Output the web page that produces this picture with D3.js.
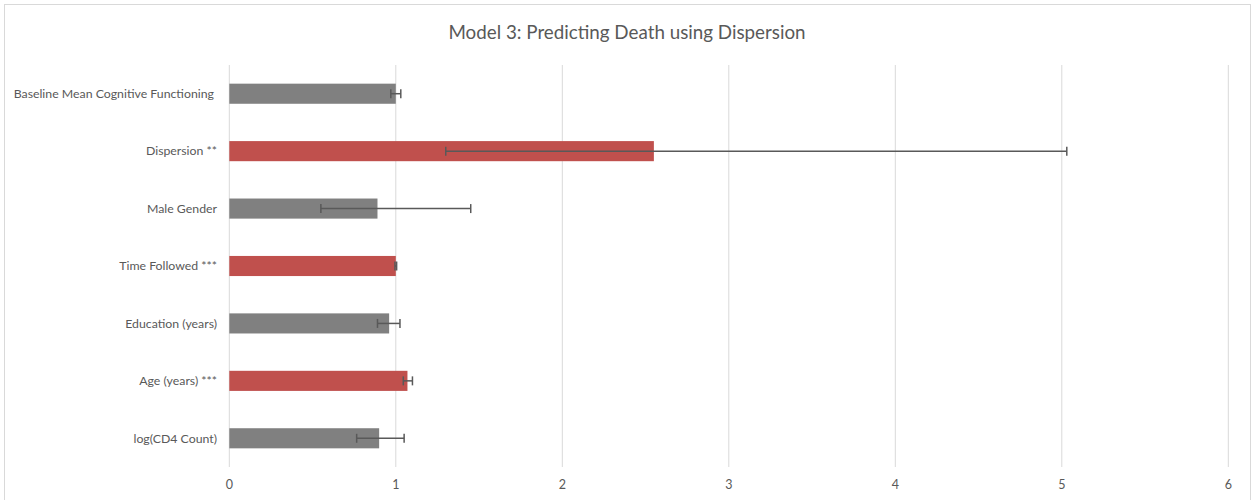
<!DOCTYPE html>
<html>
<head>
<meta charset="utf-8">
<script src="https://cdn.jsdelivr.net/npm/d3@7"></script>
<style>
  body { margin: 0; background: #fff; }
  text { font-family: Lato, "Open Sans", sans-serif; fill: #595959; }
</style>
</head>
<body>
<svg width="1255" height="500"></svg>
<script>
const categories = ["Baseline Mean Cognitive Functioning", "Dispersion **", "Male Gender", "Time Followed ***", "Education (years)", "Age (years) ***", "log(CD4 Count)"];
const values = [1.00, 2.55, 0.89, 1.00, 0.96, 1.07, 0.90];
const lower = [0.97, 1.30, 0.55, 0.995, 0.89, 1.045, 0.765];
const upper = [1.03, 5.03, 1.45, 1.005, 1.025, 1.10, 1.05];
const significant = [false, true, false, true, false, true, false];
const xTicks = [0, 1, 2, 3, 4, 5, 6];

const svg = d3.select("svg");

// chart frame
svg.append("rect")
  .attr("x", 4.5).attr("y", 4.5)
  .attr("width", 1246).attr("height", 500)
  .attr("fill", "none")
  .attr("stroke", "#d9d9d9");

svg.append("text")
  .attr("x", 627).attr("y", 39)
  .attr("text-anchor", "middle")
  .style("font-size", "18.8px")
  .text("Model 3: Predicting Death using Dispersion");

const x = d3.scaleLinear().domain([0, 6]).range([229.3, 1228.3]);
const y = d3.scaleBand()
  .domain(categories)
  .range([65, 467])
  .paddingInner(0.65)
  .paddingOuter(0.325);

// gridlines
svg.append("g")
  .selectAll("line")
  .data(xTicks)
  .enter().append("line")
  .attr("x1", d => x(d)).attr("x2", d => x(d))
  .attr("y1", 65).attr("y2", 467)
  .attr("stroke", "#d9d9d9")
  .attr("stroke-width", 1);

// tick labels
svg.append("g")
  .selectAll("text")
  .data(xTicks)
  .enter().append("text")
  .attr("x", d => x(d))
  .attr("y", 489)
  .attr("text-anchor", "middle")
  .style("font-size", "12.5px")
  .text(d => d);

// category labels
svg.append("g")
  .selectAll("text")
  .data(categories)
  .enter().append("text")
  .attr("x", (d, i) => i === 0 ? 214 : 217)
  .attr("y", d => y(d) + y.bandwidth() / 2)
  .attr("dy", "0.35em")
  .attr("text-anchor", "end")
  .style("font-size", "12.3px")
  .text(d => d);

// bars
svg.append("g")
  .selectAll("rect")
  .data(categories)
  .enter().append("rect")
  .attr("x", x(0))
  .attr("y", d => y(d))
  .attr("width", (d, i) => x(values[i]) - x(0))
  .attr("height", y.bandwidth())
  .attr("fill", (d, i) => significant[i] ? "#c0504d" : "#808080");

// error bars
const err = svg.append("g")
  .attr("stroke", "#595959")
  .attr("stroke-width", 1.5);

categories.forEach((c, i) => {
  const cy = y(c) + y.bandwidth() / 2;
  err.append("line")
    .attr("x1", x(lower[i])).attr("x2", x(upper[i]))
    .attr("y1", cy).attr("y2", cy);
  [lower[i], upper[i]].forEach(v => {
    err.append("line")
      .attr("x1", x(v)).attr("x2", x(v))
      .attr("y1", cy - 4.5).attr("y2", cy + 4.5);
  });
});
</script>
</body>
</html>
